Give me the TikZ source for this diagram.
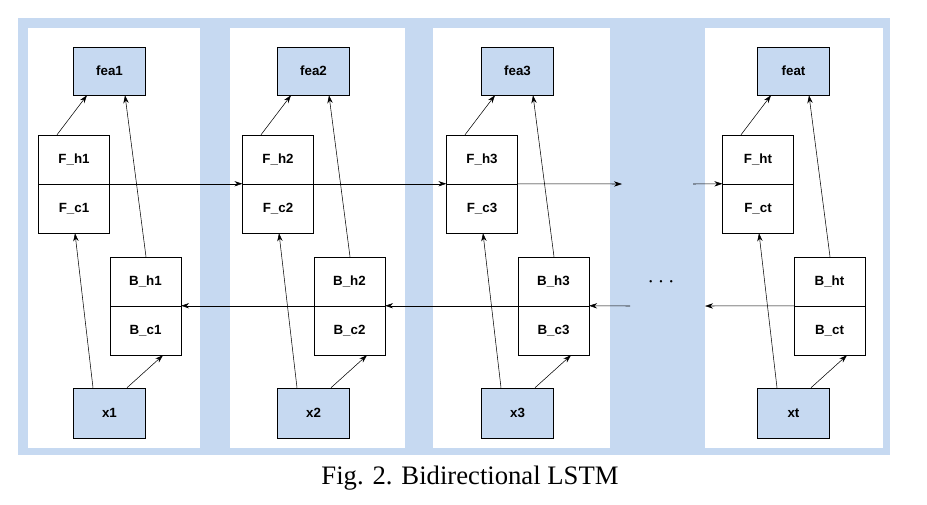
\documentclass[tikz,border=0pt]{standalone}
\usepackage{fontspec}
\setmainfont{Liberation Serif}
\newfontfamily\boxfont{Liberation Sans}
\usetikzlibrary{arrows.meta,calc}
\definecolor{lblue}{HTML}{C6D9F1}
\begin{document}
\begin{tikzpicture}[x=0.75pt,y=-0.75pt, >={Stealth[length=6pt,width=4pt]},
    cell/.style = {draw, fill=white, minimum width=53pt, minimum height=36.7pt, inner sep=0pt, font=\boxfont\fontsize{10}{12}\selectfont\bfseries},
    io/.style = {draw, fill=lblue, minimum width=54pt, minimum height=36pt, inner sep=0pt, font=\boxfont\fontsize{10}{12}\selectfont\bfseries}]
    \useasboundingbox (0,0) rectangle (927,504);
    % sfondo e pannelli
    \fill[lblue] (18,18) rectangle (890,455);
    \foreach \l/\r in {28/200, 230/405, 433/610, 705/883}
        \fill[white] (\l,28) rectangle (\r,448);

    % celle per ogni istante
    \foreach \i/\hx in {1/74, 2/278, 3/482, t/758} {
        \node[io] (fea\i) at (\hx+35.5,71) {\ifx\i t feat\else fea\i\fi};
        \node[cell] (Fh\i) at (\hx,159.5) {F\_h\i};
        \node[cell] (Fc\i) at (\hx,208.5) {F\_c\i};
        \node[cell] (Bh\i) at (\hx+71.5,281.5) {B\_h\i};
        \node[cell] (Bc\i) at (\hx+71.5,330.5) {B\_c\i};
        \node[io, minimum height=37.5pt] (x\i) at (\hx+35.5,413) {x\i};
        \draw[->] ($(x\i.north)+(-16.5,0)$) -- ($(Fc\i.south)+(1,0)$);
        \draw[->] ($(x\i.north)+(17.5,0)$) -- ($(Bc\i.south)+(17.5,0)$);
        \draw[->] ($(Fh\i.north)+(-17,0)$) -- ($(fea\i.south)+(-22.5,0)$);
        \draw[->] ($(Bh\i.north)+(0.5,0)$) -- ($(fea\i.south)+(15.5,0)$);
    }

    % collegamenti in avanti e all'indietro
    \coordinate (fend) at (622,184);
    \coordinate (fstart) at (693,184);
    \coordinate (bstart) at (630,306);
    \coordinate (bend) at (705,306);
    \draw[->] (Fc1.north east) -- (Fc2.north west);
    \draw[->] (Fc2.north east) -- (Fc3.north west);
    \draw[->] (Fc3.north east) -- (fend);
    \draw[->] (fstart) -- (Fct.north west);
    \draw[->] (bstart) -- (Bc3.north east);
    \draw[->] (Bc3.north west) -- (Bc2.north east);
    \draw[->] (Bc2.north west) -- (Bc1.north east);
    \draw[->] (Bct.north west) -- (bend);
    \node[font=\bfseries\fontsize{16}{16}\selectfont] (dots) at (661,282) {$\cdots$};

    \node[font=\fontsize{20}{24}\selectfont] (cap) at (470,478) {Fig. 2. Bidirectional LSTM};
\end{tikzpicture}
\end{document}
